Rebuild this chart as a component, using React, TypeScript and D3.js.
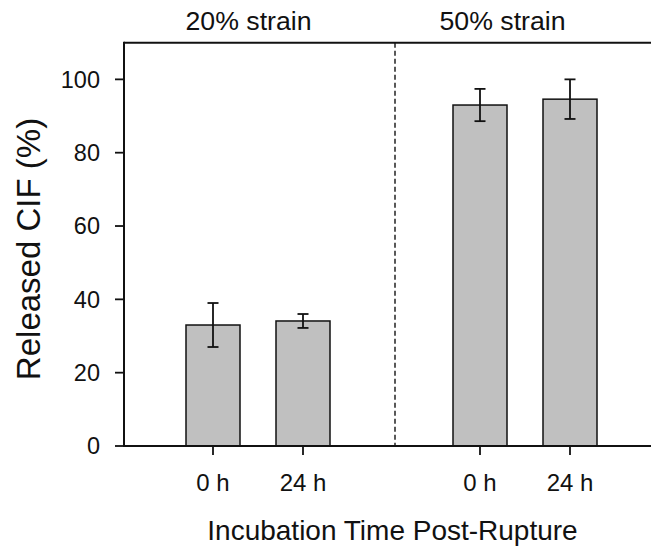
import React from "react";
import * as d3 from "d3";

const groups = ["20% strain", "50% strain"];
const times = ["0 h", "24 h"];
const means = [
  [33.0, 34.1],
  [93.0, 94.6],
];
const errs = [
  [6.0, 1.9],
  [4.4, 5.4],
];
const yTicks = [0, 20, 40, 60, 80, 100];
const yLabel = "Released CIF (%)";
const xLabel = "Incubation Time Post-Rupture";

const W = 651;
const H = 551;
const left = 124;
const right = 652;
const top = 42.7;
const bottom = 446;
const font = "'Liberation Sans', Arial, sans-serif";

export default function App() {
  const y = d3.scaleLinear().domain([0, 110]).range([bottom, top]);
  const gx = d3.scalePoint<string>().domain(groups).range([258, 525]);
  const tx = d3.scalePoint<string>().domain(times).range([-45, 45]);
  const barW = 54;
  const divider = 395;

  const bars: any[] = [];
  groups.forEach((g, gi) => {
    times.forEach((t, ti) => {
      bars.push({ g, t, cx: (gx(g) as number) + (tx(t) as number), v: means[gi][ti], e: errs[gi][ti] });
    });
  });

  return (
    <svg width={W} height={H} style={{ position: "absolute", left: 0, top: 0, background: "#fff" }} fontFamily={font}>
      <rect x={0} y={0} width={W} height={H} fill="#fff" />
      {/* bars */}
      {bars.map((b, i) => (
        <g key={i}>
          <rect x={b.cx - barW / 2} y={y(b.v)} width={barW} height={bottom - y(b.v)} fill="#c0c0c0" stroke="#111" strokeWidth={1.5} />
          <line x1={b.cx} x2={b.cx} y1={y(b.v + b.e)} y2={y(b.v - b.e)} stroke="#111" strokeWidth={1.8} />
          <line x1={b.cx - 5.5} x2={b.cx + 5.5} y1={y(b.v + b.e)} y2={y(b.v + b.e)} stroke="#111" strokeWidth={1.8} />
          <line x1={b.cx - 5.5} x2={b.cx + 5.5} y1={y(b.v - b.e)} y2={y(b.v - b.e)} stroke="#111" strokeWidth={1.8} />
          <line x1={b.cx} x2={b.cx} y1={bottom} y2={bottom + 9} stroke="#111" strokeWidth={1.8} />
          <text x={b.cx} y={490.5} textAnchor="middle" fontSize={24} fill="#111">{b.t}</text>
        </g>
      ))}
      {/* divider */}
      <line x1={divider} x2={divider} y1={top} y2={bottom} stroke="#222" strokeWidth={1.5} strokeDasharray="5,3" />
      {/* frame */}
      <line x1={left} x2={right} y1={top} y2={top} stroke="#111" strokeWidth={2} />
      <line x1={left} x2={right} y1={bottom} y2={bottom} stroke="#111" strokeWidth={2} />
      <line x1={left} x2={left} y1={top - 1} y2={bottom + 1} stroke="#111" strokeWidth={2} />
      {/* y ticks */}
      {yTicks.map((t) => (
        <g key={t}>
          <line x1={left - 9} x2={left} y1={y(t)} y2={y(t)} stroke="#111" strokeWidth={1.8} />
          <text x={100} y={y(t)} dy="0.35em" textAnchor="end" fontSize={23.5} fill="#111">{t}</text>
        </g>
      ))}
      {/* group titles */}
      <text x={248.5} y={29.5} textAnchor="middle" fontSize={26.7} fill="#111">{groups[0]}</text>
      <text x={502.5} y={29.5} textAnchor="middle" fontSize={26.7} fill="#111">{groups[1]}</text>
      {/* axis labels */}
      <text x={392.5} y={540} textAnchor="middle" fontSize={28} fill="#111">{xLabel}</text>
      <text transform={`translate(40,249) rotate(-90)`} textAnchor="middle" fontSize={33} fill="#111">{yLabel}</text>
    </svg>
  );
}
